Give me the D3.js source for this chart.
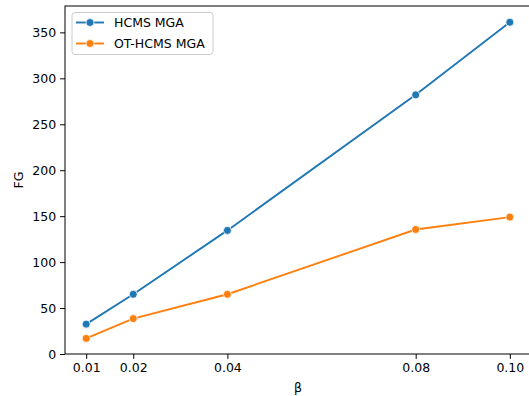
<!DOCTYPE html>
<html><head><meta charset="utf-8">
<script src="https://cdn.jsdelivr.net/npm/d3@7"></script>
<style>body{margin:0;background:#fff}svg{display:block;font-family:"DejaVu Sans",sans-serif}</style>
</head><body><svg id="c" width="529" height="396"></svg>
<script>
const betas = [0.01, 0.02, 0.04, 0.08, 0.10];
const xTickLabels = ["0.01", "0.02", "0.04", "0.08", "0.10"];
const hcms = [32.5, 65, 134.5, 282, 361];
const otHcms = [17, 38.5, 65, 135.5, 149];
const yTicks = [0, 50, 100, 150, 200, 250, 300, 350];
const seriesNames = ["HCMS MGA", "OT-HCMS MGA"];
const colors = ["#1f77b4", "#ff7f0e"];

const svg = d3.select("#c");
const L = 65, R = 531, T = 6, B = 354;
const x = d3.scaleLinear().domain([0.0055, 0.1045]).range([L, R]);
const y = d3.scaleLinear().domain([0, 378.7]).range([B, T]);
const fs = 12.5;

const xAxis = svg.append("g").attr("transform", `translate(0,${B})`)
  .call(d3.axisBottom(x).tickValues(betas).tickFormat((d,i)=>xTickLabels[i]).tickSize(4.9).tickPadding(4));
const yAxis = svg.append("g").attr("transform", `translate(${L},0)`)
  .call(d3.axisLeft(y).tickValues(yTicks).tickSize(4.9).tickPadding(4));
[xAxis, yAxis].forEach(a => {
  a.selectAll("text").attr("font-size", fs).attr("font-family", "DejaVu Sans").attr("fill", "#000");
  a.selectAll("line").attr("stroke", "#000").attr("stroke-width", 1);
  a.select(".domain").remove();
});
// spines
svg.append("rect").attr("x", L).attr("y", T).attr("width", R - L).attr("height", B - T)
  .attr("fill", "none").attr("stroke", "#000").attr("stroke-width", 1);

const line = d3.line().x((d,i)=>x(betas[i])).y(d=>y(d));
[hcms, otHcms].forEach((s, k) => {
  svg.append("path").datum(s).attr("d", line).attr("fill", "none")
    .attr("stroke", colors[k]).attr("stroke-width", 1.9);
  svg.selectAll(null).data(s).enter().append("circle")
    .attr("cx", (d,i)=>x(betas[i])).attr("cy", d=>y(d)).attr("r", 4)
    .attr("fill", colors[k]).attr("stroke", "#fff").attr("stroke-width", 0.8);
});

// axis labels
svg.append("text").attr("x", (L + R) / 2).attr("y", 392).attr("text-anchor", "middle")
  .attr("font-size", fs).text("β");
svg.append("text").attr("transform", `translate(23,${(T + B) / 2}) rotate(-90)`)
  .attr("text-anchor", "middle").attr("font-size", fs).text("FG");

// legend
const lg = svg.append("g");
lg.append("rect").attr("x", 72).attr("y", 12.5).attr("width", 141).attr("height", 42)
  .attr("rx", 3).attr("fill", "#fff").attr("fill-opacity", 0.8).attr("stroke", "#ccc").attr("stroke-width", 1);
seriesNames.forEach((n, k) => {
  const yy = 22.5 + k * 21;
  lg.append("line").attr("x1", 76).attr("x2", 104).attr("y1", yy).attr("y2", yy)
    .attr("stroke", colors[k]).attr("stroke-width", 1.9);
  lg.append("circle").attr("cx", 90).attr("cy", yy).attr("r", 4)
    .attr("fill", colors[k]).attr("stroke", "#fff").attr("stroke-width", 0.8);
  lg.append("text").attr("x", 114).attr("y", yy + 4.5).attr("font-size", fs).text(n);
});
</script></body></html>
